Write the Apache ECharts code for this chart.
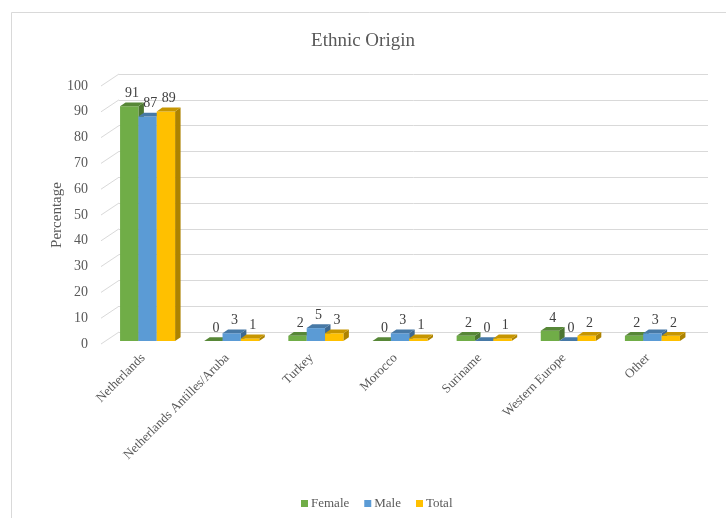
<!DOCTYPE html>
<html>
<head>
<meta charset="utf-8">
<script src="https://cdn.jsdelivr.net/npm/echarts@6/dist/echarts.min.js"></script>
<style>
  html, body { margin: 0; padding: 0; background: #ffffff; }
  #chart { width: 726px; height: 518px; }
</style>
</head>
<body>
<div id="chart"></div>
<script>
// Ethnic origin of respondents, percentages by group
const categories = ['Netherlands', 'Netherlands Antilles/Aruba', 'Turkey', 'Morocco', 'Suriname', 'Western Europe', 'Other'];
const female = [91, 0, 2, 0, 2, 4, 2];
const male = [87, 3, 5, 3, 0, 0, 3];
const total = [89, 1, 3, 1, 1, 2, 2];
const yTicks = [0, 10, 20, 30, 40, 50, 60, 70, 80, 90, 100];

const SERIF = '"Liberation Serif", "Times New Roman", serif';
const TEXT = '#595959';
const GRID_LINE = '#d9d9d9';

// pseudo-3D projection: back wall offset and bar depth
const WALL_DX = 18, WALL_DY = -12;
const BAR_SHIFT = 0.25;           // fraction of depth where bar fronts sit
const BAR_DX = 5.5, BAR_DY = -3.8; // bar depth

function shade(hex, k) {
  const n = parseInt(hex.slice(1), 16);
  const r = Math.round(((n >> 16) & 255) * k);
  const g = Math.round(((n >> 8) & 255) * k);
  const b = Math.round((n & 255) * k);
  return 'rgb(' + r + ',' + g + ',' + b + ')';
}

function prismSeries(name, values, slot, color) {
  return {
    type: 'custom',
    name: name,
    xAxisIndex: 0,
    yAxisIndex: 0,
    itemStyle: { color: color },
    data: values.map((v, i) => [i, v]),
    encode: { x: 0, y: 1 },
    z: 5,
    renderItem: function (params, api) {
      const ci = api.value(0);
      const v = api.value(1);
      const base = api.coord([ci, 0]);
      const top = api.coord([ci, v]);
      const band = api.size([1, 0])[0];
      const w = band * 0.218;
      const sx = WALL_DX * BAR_SHIFT, sy = WALL_DY * BAR_SHIFT;
      const x0 = base[0] + (slot - 1.5) * w + sx;
      const yb = base[1] + sy;
      const yt = top[1] + sy;
      const x1 = x0 + w;
      return {
        type: 'group',
        children: [
          {
            type: 'polygon',
            shape: { points: [[x1, yt], [x1 + BAR_DX, yt + BAR_DY], [x1 + BAR_DX, yb + BAR_DY], [x1, yb]] },
            style: { fill: shade(color, 0.68) }
          },
          {
            type: 'rect',
            shape: { x: x0, y: yt, width: w, height: Math.max(yb - yt, 0) },
            style: { fill: color }
          },
          {
            type: 'polygon',
            shape: { points: [[x0, yt], [x1, yt], [x1 + BAR_DX, yt + BAR_DY], [x0 + BAR_DX, yt + BAR_DY]] },
            style: { fill: shade(color, 0.78) }
          },
          {
            type: 'text',
            style: {
              text: String(v),
              x: x0 + w / 2 + BAR_DX / 2,
              y: yt + BAR_DY - 9,
              align: 'center',
              verticalAlign: 'middle',
              font: '14px ' + SERIF,
              fill: '#404040'
            }
          }
        ]
      };
    }
  };
}

const chart = echarts.init(document.getElementById('chart'));
chart.setOption({
  backgroundColor: '#ffffff',
  animation: false,
  title: {
    text: 'Ethnic Origin',
    left: 'center',
    top: 27,
    textStyle: { fontFamily: SERIF, fontSize: 19, fontWeight: 'normal', color: TEXT }
  },
  legend: {
    data: ['Female', 'Male', 'Total'],
    bottom: 3,
    left: 296,
    icon: 'rect',
    itemWidth: 7,
    itemHeight: 7,
    itemGap: 15,
    textStyle: { fontFamily: SERIF, fontSize: 13, color: TEXT, padding: [0, 0, 0, -2] }
  },
  graphic: [{
    type: 'rect',
    shape: { x: 11.5, y: 12.5, width: 760, height: 560 },
    style: { fill: null, stroke: '#d9d9d9', lineWidth: 1 },
    silent: true
  }],
  grid: [
    { left: 101, right: 36, top: 86, bottom: 174 },
    { left: 101 + WALL_DX, right: 36 - WALL_DX, top: 86 + WALL_DY, bottom: 174 - WALL_DY }
  ],
  xAxis: [
    {
      type: 'category',
      gridIndex: 0,
      data: categories,
      axisLine: { show: false },
      axisTick: { show: false },
      axisLabel: {
        rotate: 45,
        margin: 12,
        interval: 0,
        fontFamily: SERIF,
        fontSize: 13,
        color: TEXT
      }
    },
    {
      type: 'category',
      gridIndex: 1,
      data: categories,
      show: false
    }
  ],
  yAxis: [
    {
      type: 'value',
      gridIndex: 0,
      min: 0,
      max: 100,
      interval: 10,
      name: 'Percentage',
      nameLocation: 'middle',
      nameRotate: 90,
      nameGap: 36,
      nameMoveOverlap: false,
      nameTextStyle: { fontFamily: SERIF, fontSize: 15, color: TEXT },
      axisLine: { show: false },
      axisTick: { show: false },
      splitLine: { show: false },
      axisLabel: { margin: 13, fontFamily: SERIF, fontSize: 14, color: TEXT }
    },
    {
      type: 'value',
      gridIndex: 1,
      min: 0,
      max: 100,
      interval: 10,
      axisLine: { show: false },
      axisTick: { show: false },
      axisLabel: { show: false },
      splitLine: { show: true, lineStyle: { color: GRID_LINE, width: 1 } }
    }
  ],
  series: [
    {
      // slanted side-wall lines joining the value scale to the back wall
      type: 'custom',
      name: 'wall',
      xAxisIndex: 0,
      yAxisIndex: 0,
      silent: true,
      z: 1,
      data: yTicks.map(v => [0, v]),
      encode: { x: 0, y: 1 },
      renderItem: function (params, api) {
        const p = api.coord([0, api.value(1)]);
        const x = params.coordSys.x;
        return {
          type: 'line',
          shape: { x1: x, y1: p[1], x2: x + WALL_DX, y2: p[1] + WALL_DY },
          style: { stroke: GRID_LINE, lineWidth: 1 }
        };
      }
    },
    prismSeries('Female', female, 0, '#70AD47'),
    prismSeries('Male', male, 1, '#5B9BD5'),
    prismSeries('Total', total, 2, '#FFC000')
  ]
});
</script>
</body>
</html>
